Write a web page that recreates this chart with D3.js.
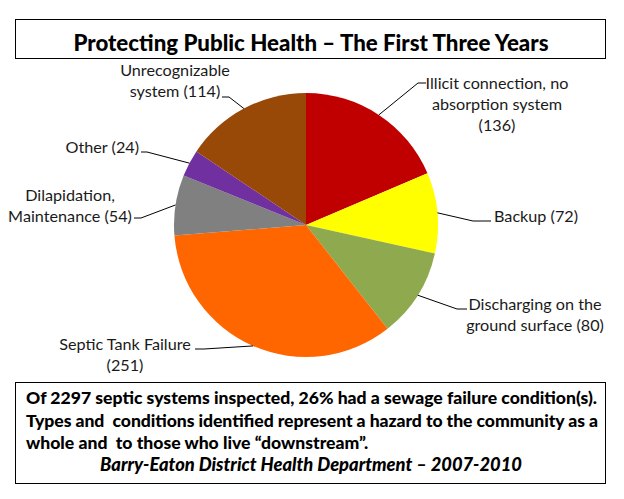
<!DOCTYPE html>
<html>
<head>
<meta charset="utf-8">
<script src="https://cdn.jsdelivr.net/npm/d3@7"></script>
<style>
  html, body { margin: 0; padding: 0; background: #fff; }
  svg { display: block; }
</style>
</head>
<body>
<script>
// ---- data ----
const categories = ["Illicit connection, no absorption system", "Backup", "Discharging on the ground surface",
  "Septic Tank Failure", "Dilapidation, Maintenance", "Other", "Unrecognizable system"];
const values = [136, 72, 80, 251, 54, 24, 114];
const colors = ["#C00000", "#FFFF00", "#8FA94F", "#FF6600", "#808080", "#7030A0", "#984807"];
// label text lines (value appended to the last line)
const labelLines = [
  ["Illicit connection, no", "absorption system", ""],
  ["Backup"],
  ["Discharging on the", "ground surface"],
  ["Septic Tank Failure", ""],
  ["Dilapidation,", "Maintenance"],
  ["Other"],
  ["Unrecognizable", "system"]
];
const titleText = "Protecting Public Health \u2013 The First Three Years";
const noteLines = [
  "Of 2297 septic systems inspected, 26% had a sewage failure condition(s).",
  "Types and\u00a0 conditions identified represent a hazard to the community as a",
  "whole and\u00a0 to those who live \u201cdownstream\u201d."
];
const sourceText = "Barry-Eaton District Health Department \u2013 2007-2010";

// ---- layout ----
const W = 624, H = 499;
const cx = 306, cy = 225, R = 132;
const labelFont = "Lato, 'Open Sans', sans-serif";
const layout = [
  {x: 497, y: 89,  anchor: "middle", elbow: [418, 83],  end: [426, 83]},
  {x: 494, y: 222, anchor: "start",  elbow: [473, 221], end: [491, 221]},
  {x: 535, y: 310, anchor: "middle", elbow: [457, 309], end: [467, 309]},
  {x: 125, y: 350, anchor: "middle", elbow: [204, 349], end: [195, 349]},
  {x: 70,  y: 201, anchor: "middle", elbow: [141, 218], end: [134, 218]},
  {x: 139, y: 153, anchor: "end",    elbow: [147, 152], end: [141, 152]},
  {x: 175, y: 76,  anchor: "middle", elbow: [229, 97],  end: [222, 97]}
];
const lineH = 21;

const svg = d3.select("body").append("svg").attr("width", W).attr("height", H);
svg.append("rect").attr("width", W).attr("height", H).attr("fill", "#fff");

// fit a text element's font size so its width equals target
function fitText(sel, target) {
  const node = sel.node();
  const fs = parseFloat(sel.attr("font-size"));
  const w = node.getComputedTextLength();
  if (w > 0) sel.attr("font-size", (fs * target / w).toFixed(2));
}

// ---- title box ----
svg.append("rect").attr("x", 15.5).attr("y", 19.5).attr("width", 590).attr("height", 39)
  .attr("fill", "#fff").attr("stroke", "#000").attr("stroke-width", 1);
const title = svg.append("text").attr("x", 311).attr("y", 51).attr("text-anchor", "middle")
  .attr("font-family", labelFont).attr("font-weight", "900").attr("font-size", 20)
  .attr("fill", "#000").text(titleText);
fitText(title, 475);

// ---- pie ----
const pie = d3.pie().sort(null).value(d => d)(values);
const arc = d3.arc().innerRadius(0).outerRadius(R);
const g = svg.append("g").attr("transform", `translate(${cx},${cy})`);
g.selectAll("path").data(pie).join("path")
  .attr("d", arc).attr("fill", (d, i) => colors[i]);

// ---- leader lines ----
pie.forEach((d, i) => {
  const a = (d.startAngle + d.endAngle) / 2;
  const px = cx + R * Math.sin(a), py = cy - R * Math.cos(a);
  const L = layout[i];
  svg.append("polyline")
    .attr("points", [[px, py], L.elbow, L.end].map(p => p.join(",")).join(" "))
    .attr("fill", "none").attr("stroke", "#000").attr("stroke-width", 1);
});

// ---- labels ----
const probe = svg.append("text").attr("font-family", labelFont).attr("font-size", 14).text("Illicit connection, no");
fitText(probe, 143);
const labelSize = probe.attr("font-size");
probe.remove();

pie.forEach((d, i) => {
  const L = layout[i];
  const lines = labelLines[i].slice();
  const last = lines.length - 1;
  lines[last] = (lines[last] ? lines[last] + " " : "") + "(" + values[i] + ")";
  const t = svg.append("text").attr("font-family", labelFont).attr("font-size", labelSize)
    .attr("fill", "#1a1a1a").attr("text-anchor", L.anchor);
  lines.forEach((ln, j) => {
    t.append("tspan").attr("x", L.x).attr("y", L.y + j * lineH).text(ln);
  });
});

// ---- note box ----
svg.append("rect").attr("x", 15.5).attr("y", 382.5).attr("width", 590).attr("height", 101)
  .attr("fill", "#fff").attr("stroke", "#000").attr("stroke-width", 1);
const noteY = [404, 427, 449];
const noteW = [571, 572, null];
let noteSize = null;
noteLines.forEach((ln, i) => {
  const t = svg.append("text").attr("x", 26).attr("y", noteY[i])
    .attr("font-family", labelFont).attr("font-weight", "900").attr("font-size", noteSize || 17)
    .attr("fill", "#000").attr("xml:space", "preserve").text(ln);
  if (i === 0) { fitText(t, noteW[0]); noteSize = t.attr("font-size"); }
  else if (noteW[i]) {
    t.attr("textLength", noteW[i]).attr("lengthAdjust", "spacing");
  }
});
const src = svg.append("text").attr("x", 311).attr("y", 471).attr("text-anchor", "middle")
  .attr("font-family", labelFont).attr("font-weight", "900").attr("font-style", "italic")
  .attr("font-size", noteSize).attr("fill", "#000").text(sourceText);
fitText(src, 422);
</script>
</body>
</html>
